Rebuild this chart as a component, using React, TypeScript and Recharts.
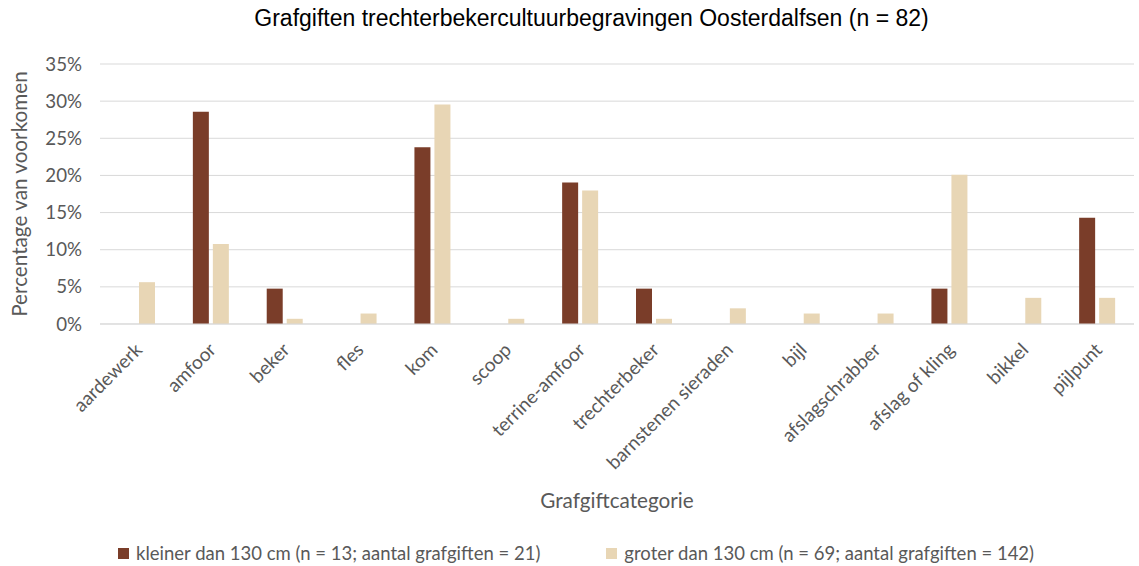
import { Bar, BarChart, CartesianGrid, Label, Legend, XAxis, YAxis } from "recharts";

const categories = [
  "aardewerk",
  "amfoor",
  "beker",
  "fles",
  "kom",
  "scoop",
  "terrine-amfoor",
  "trechterbeker",
  "barnstenen sieraden",
  "bijl",
  "afslagschrabber",
  "afslag of kling",
  "bikkel",
  "pijlpunt",
];

// percentages
const kleiner = [0, 28.57, 4.76, 0, 23.81, 0, 19.05, 4.76, 0, 0, 0, 4.76, 0, 14.29];
const groter = [5.63, 10.77, 0.7, 1.41, 29.55, 0.7, 17.96, 0.7, 2.11, 1.41, 1.41, 20.1, 3.52, 3.52];

const yTicks = [0, 5, 10, 15, 20, 25, 30, 35];

const seriesNames = [
  "kleiner dan 130 cm (n = 13; aantal grafgiften = 21)",
  "groter dan 130 cm (n = 69; aantal grafgiften = 142)",
];
const colors = ["#7a3d29", "#e8d6b5"];

const data = categories.map((cat, i) => ({ cat, kleiner: kleiner[i], groter: groter[i] }));

const labelFont = "Lato, 'Open Sans', sans-serif";
const gray = "#595959";

function AngledTick({ x, y, payload }: any) {
  return (
    <g transform={`translate(${x},${y})`}>
      <text x={-9} y={0} dy={18} textAnchor="end" transform="rotate(-45)" fill={gray} fontSize={19} fontFamily={labelFont}>
        {payload.value}
      </text>
    </g>
  );
}

function LegendRow() {
  return (
    <div style={{ display: "flex", fontFamily: labelFont, fontSize: 18.5, color: gray, marginTop: 6 }}>
      {seriesNames.map((name, i) => (
        <div key={name} style={{ display: "flex", alignItems: "center", marginLeft: i === 0 ? 118 : 66 }}>
          <span style={{ width: 11, height: 11, background: colors[i], display: "inline-block", marginRight: 7 }} />
          <span>{name}</span>
        </div>
      ))}
    </div>
  );
}

export default function App() {
  return (
    <div style={{ position: "absolute", left: 0, top: 0, width: 1139, height: 566, background: "#fff" }}>
      <div
        style={{
          position: "absolute",
          top: 5,
          left: 44,
          width: 1095,
          textAlign: "center",
          fontFamily: "'Liberation Sans', Arial, sans-serif",
          fontSize: 23,
          color: "#000",
        }}
      >
        Grafgiften trechterbekercultuurbegravingen Oosterdalfsen (n = 82)
      </div>
      <BarChart width={1139} height={566} data={data} margin={{ top: 64, right: 5, left: 0, bottom: 0 }} barGap={4} barSize={16}>
        <CartesianGrid vertical={false} stroke="#d9d9d9" />
        <XAxis dataKey="cat" interval={0} height={212} tick={<AngledTick />} tickLine={false} axisLine={{ stroke: "#d9d9d9" }}>
          <Label value="Grafgiftcategorie" position="insideBottom" offset={28} fill={gray} fontSize={20.7} fontFamily={labelFont} />
        </XAxis>
        <YAxis
          width={100}
          domain={[0, 35]}
          ticks={yTicks}
          tickFormatter={(v) => `${v}%`}
          axisLine={false}
          tickLine={false}
          tickMargin={12}
          tick={{ fill: gray, fontSize: 18.7, fontFamily: labelFont }}
        >
          <Label value="Percentage van voorkomen" angle={-90} position="insideLeft" offset={20} style={{ textAnchor: "middle" }} fill={gray} fontSize={20.7} fontFamily={labelFont} />
        </YAxis>
        <Legend verticalAlign="bottom" height={30} content={<LegendRow />} />
        <Bar dataKey="kleiner" name={seriesNames[0]} fill={colors[0]} isAnimationActive={false} />
        <Bar dataKey="groter" name={seriesNames[1]} fill={colors[1]} isAnimationActive={false} />
      </BarChart>
    </div>
  );
}
